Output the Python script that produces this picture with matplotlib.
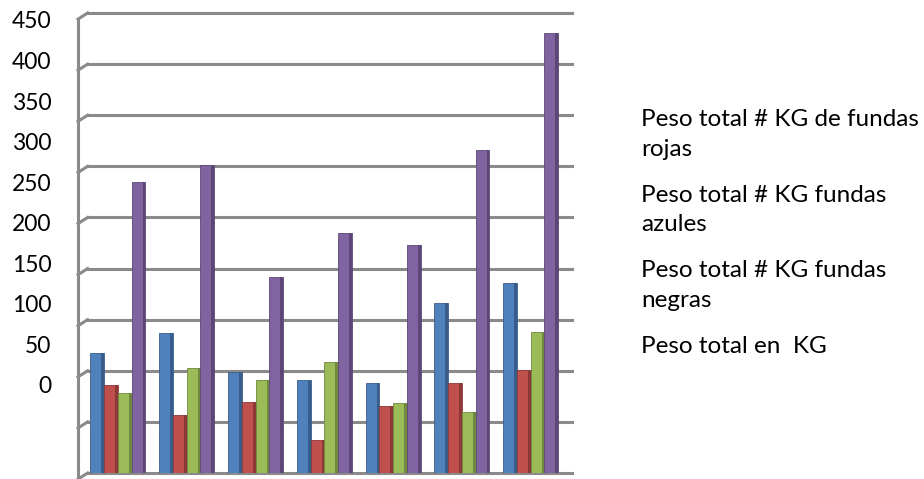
import numpy as np
import matplotlib
matplotlib.use("Agg")
import matplotlib.pyplot as plt

# values read against the gridlines (one gridline = 50)
groups = np.arange(7)
rojas = [117, 137, 99, 91, 88, 166, 186]
azules = [86, 57, 69, 32, 66, 88, 101]
negras = [78, 103, 91, 109, 68, 60, 138]
total = [285, 301, 192, 235, 223, 316, 430]

series = [rojas, azules, negras, total]
labels = ["Peso total # KG de fundas\nrojas",
          "Peso total # KG fundas\nazules",
          "Peso total # KG fundas\nnegras",
          "Peso total en  KG"]
colors = ["#4F81BD", "#C0504D", "#9BBB59", "#8064A2"]
dark = ["#385D8A", "#8C3836", "#71893F", "#5C4776"]
tick_labels = [0, 50, 100, 150, 200, 250, 300, 350, 400, 450]

plt.rcParams['font.family'] = ['Lato', 'DejaVu Sans']
grid_c = "#8a8a8a"

fig = plt.figure(figsize=(9.24, 4.79), dpi=100)
ax = fig.add_axes([78 / 924, 6 / 479, (572 - 78) / 924, 460 / 479])
ax.set_xlim(-0.58, 6.6)
ax.set_ylim(0, 450)

# back wall gridlines with a small slant on the left
for g in range(0, 451, 50):
    ax.plot([-0.44, 6.6], [g, g], color=grid_c, lw=2.2, zorder=1, clip_on=False)
    ax.plot([-0.58, -0.44], [g - 6, g], color=grid_c, lw=2.2, zorder=1, clip_on=False)
ax.plot([-0.58, -0.58], [-6, 444], color=grid_c, lw=2.2, zorder=1, clip_on=False)

w = 0.2
offsets = np.array([-1.5, -0.5, 0.5, 1.5]) * w
handles = []
for vals, off, c, d, lab in zip(series, offsets, colors, dark, labels):
    b = ax.bar(groups + off, vals, width=w, color=c, edgecolor=d, linewidth=0.6,
               zorder=3, label=lab)
    ax.bar(groups + off + w * 0.4, vals, width=w * 0.2, color=d, linewidth=0, zorder=3)
    handles.append(b)

for s in ax.spines.values():
    s.set_visible(False)
ax.set_xticks([])
ax.set_yticks([])

# value labels sit on their own scale at the left
ax2 = ax.twinx()
ax2.set_ylim(-108.5, 458.6)
ax2.yaxis.tick_left()
ax2.set_yticks(tick_labels)
ax2.set_yticklabels([str(t) for t in tick_labels])
ax2.tick_params(axis='y', length=0, pad=19, labelsize=16.5, labelcolor="black")
ax2.set_yticks([0], minor=True)
ax2.tick_params(axis='y', which='minor', length=7, width=1.5, color=grid_c, left=True)
for s in ax2.spines.values():
    s.set_visible(False)

# legend in the reference shows only the text
leg = fig.legend(handles, labels, loc='upper left', bbox_to_anchor=(641 / 924, 1 - 109 / 479),
                 frameon=False, handlelength=0, handletextpad=0, borderpad=0,
                 borderaxespad=0, labelspacing=1.03, fontsize=17.5)
for t in leg.get_texts():
    t.set_linespacing(1.5)
for h in leg.legend_handles:
    h.set_visible(False)

fig.savefig("out.png", dpi=100)
